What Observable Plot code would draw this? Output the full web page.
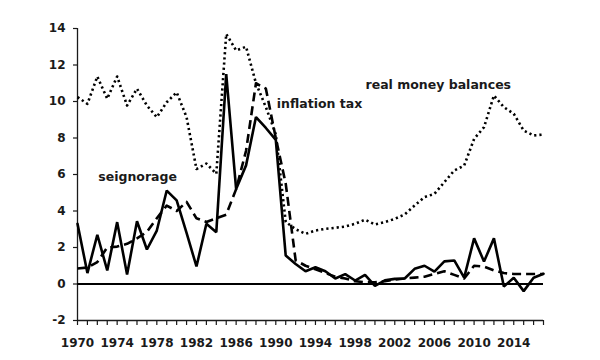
<!DOCTYPE html>
<html>
<head>
<meta charset="utf-8">
<script src="https://cdn.jsdelivr.net/npm/d3@7"></script>
<script src="https://cdn.jsdelivr.net/npm/@observablehq/plot@0.6"></script>
<style>
  html, body { margin: 0; padding: 0; background: #fff; }
</style>
</head>
<body>
<div id="chart"></div>
<script>
const years = d3.range(1970, 2018);

const seignorage = [
  3.3, 0.6, 2.7, 0.74, 3.39, 0.52, 3.44, 1.89, 2.93, 5.12,
  4.58, 2.8, 0.96, 3.3, 2.84, 11.5, 5.2, 6.5, 9.15, 8.55,
  7.9, 1.56, 1.1, 0.7, 0.92, 0.7, 0.3, 0.54, 0.19, 0.5,
  -0.1, 0.2, 0.28, 0.3, 0.83, 1.0, 0.68, 1.24, 1.29, 0.35,
  2.5, 1.23, 2.5, -0.14, 0.34, -0.39, 0.34, 0.56
];

const inflationTax = [
  0.85, 0.9, 1.2, 2.0, 2.05, 2.2, 2.5, 2.85, 3.6, 4.3,
  4.0, 4.5, 3.6, 3.4, 3.6, 3.8, 5.2, 7.3, 11.0, 10.7,
  8.0, 5.5, 1.3, 1.0, 0.8, 0.6, 0.4, 0.3, 0.15, 0.1,
  0.1, 0.15, 0.25, 0.3, 0.35, 0.4, 0.55, 0.7, 0.5, 0.3,
  1.0, 0.95, 0.75, 0.6, 0.55, 0.55, 0.55, 0.55
];

const realMoneyBalances = [
  10.24, 9.87, 11.37, 10.15, 11.37, 9.78, 10.7, 9.78, 9.14, 9.96,
  10.5, 9.14, 6.3, 6.6, 6.04, 13.7, 12.8, 13.0, 11.0, 9.69,
  8.2, 3.4, 3.0, 2.75, 2.93, 3.02, 3.08, 3.15, 3.3, 3.52,
  3.26, 3.39, 3.57, 3.81, 4.3, 4.76, 4.94, 5.58, 6.22, 6.49,
  7.95, 8.59, 10.33, 9.69, 9.33, 8.41, 8.14, 8.19
];

const yTicks = [-2, 0, 2, 4, 6, 8, 10, 12, 14];
const xTickLabels = [1970, 1974, 1978, 1982, 1986, 1990, 1994, 1998, 2002, 2006, 2010, 2014];

const seriesLabels = ["seignorage", "inflation tax", "real money balances"];
const labelYears = [1972.1, 1990.1, 1999.05];
const labelValues = [5.89, 9.84, 10.93];

const rows = years.map((year, i) => ({
  year,
  seignorage: seignorage[i],
  inflationTax: inflationTax[i],
  realMoneyBalances: realMoneyBalances[i]
}));
const labelRows = seriesLabels.map((text, i) => ({text, x: labelYears[i], y: labelValues[i]}));

const chart = Plot.plot({
  width: 600,
  height: 360,
  marginLeft: 77,
  marginRight: 57,
  marginTop: 28,
  marginBottom: 40,
  style: "font-family: 'DejaVu Sans', sans-serif; font-weight: bold; font-size: 12px; color: #1a1a1a; background: #fff;",
  x: {domain: [1970, 2017]},
  y: {domain: [-2, 14]},
  marks: [
    Plot.axisY({ticks: yTicks, tickSize: 4, tickPadding: 8, label: null, tickFormat: d => String(d), fontSize: 12, fontWeight: "bold", strokeWidth: 1.2}),
    Plot.axisX({ticks: years, tickSize: 5, tickPadding: 13, label: null, tickFormat: d => xTickLabels.includes(d) ? String(d) : "", fontSize: 12, fontWeight: "bold", strokeWidth: 1.2}),
    Plot.ruleX([1970], {y1: -2, y2: 14, stroke: "#1a1a1a", strokeWidth: 1.3}),
    Plot.ruleY([-2], {stroke: "#1a1a1a", strokeWidth: 1.3}),
    Plot.ruleY([0], {stroke: "#000", strokeWidth: 2.2}),
    Plot.lineY(rows, {x: "year", y: "realMoneyBalances", stroke: "#000", strokeWidth: 2.6, strokeDasharray: "2.2,3", strokeLinecap: "butt"}),
    Plot.lineY(rows, {x: "year", y: "inflationTax", stroke: "#000", strokeWidth: 2.6, strokeDasharray: "9,5", strokeLinecap: "butt"}),
    Plot.lineY(rows, {x: "year", y: "seignorage", stroke: "#000", strokeWidth: 2.6, strokeLinejoin: "miter"}),
    Plot.text(labelRows, {x: "x", y: "y", text: "text", textAnchor: "start", fontSize: 12.5, fontWeight: "bold", fill: "#1a1a1a"})
  ]
});
document.getElementById("chart").appendChild(chart);
</script>
</body>
</html>
